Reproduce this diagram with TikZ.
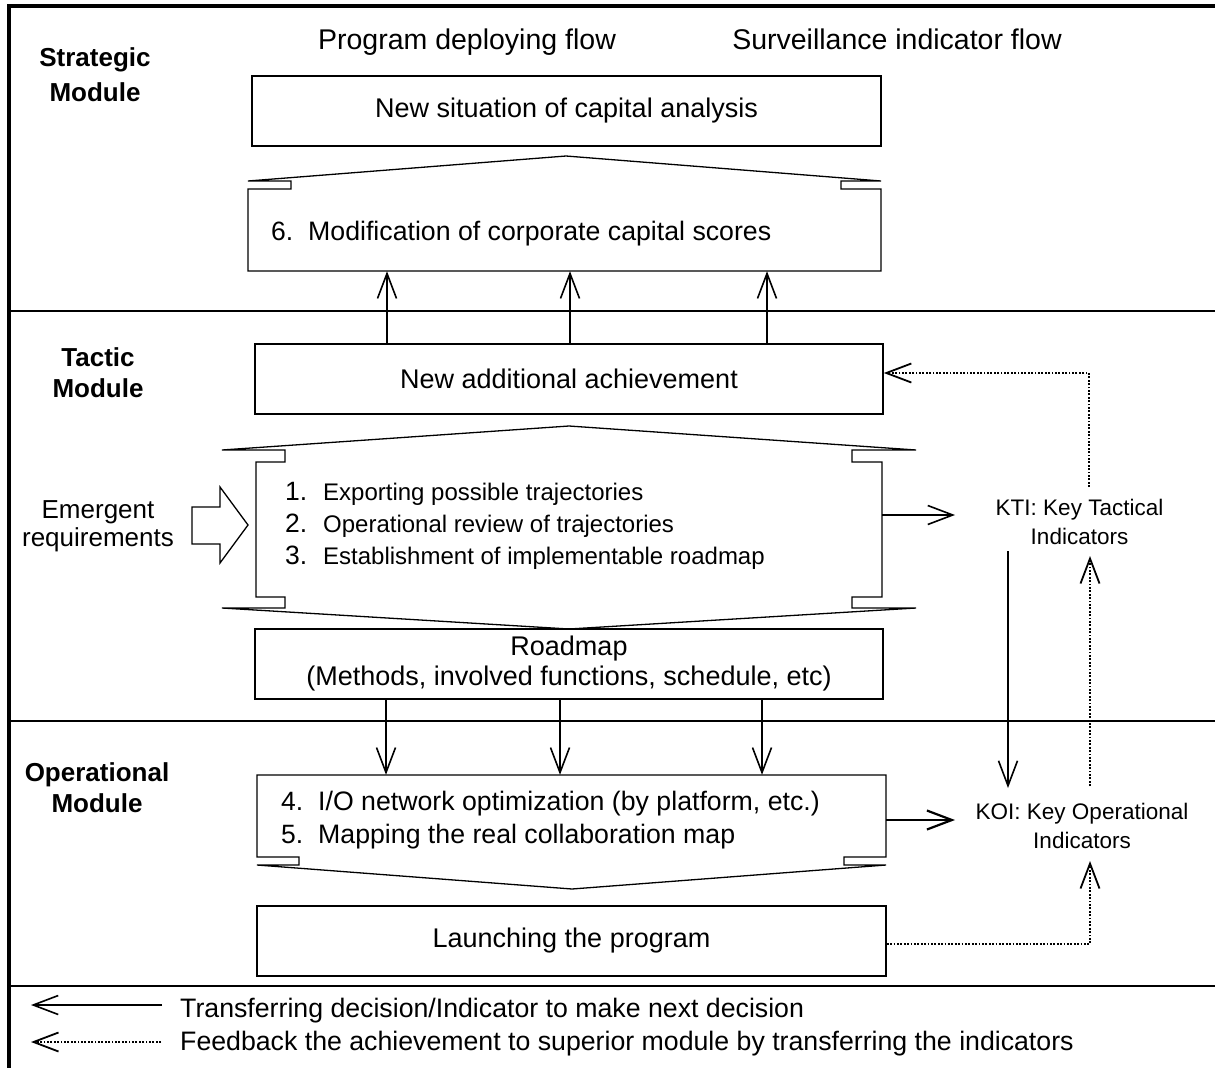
\documentclass[tikz,border=0pt]{standalone}
\usepackage{fontspec}
\setmainfont{Liberation Sans}
\usetikzlibrary{arrows.meta}
\begin{document}
\begin{tikzpicture}[x=1pt,y=-1pt,
  frame/.style={line width=3.5pt},
  sepline/.style={line width=1.8pt},
  box/.style={draw, line width=1.6pt, inner sep=0pt, minimum width=629pt, minimum height=70pt,
    font=\fontsize{27}{30}\selectfont, align=center},
  shp/.style={line width=1.3pt, line join=miter},
  ghost/.style={inner sep=0pt},
  hdr/.style={font=\fontsize{28.5}{32}\selectfont, inner sep=0pt},
  lbl/.style={font=\bfseries\fontsize{26}{31}\selectfont, align=center, inner sep=0pt},
  emg/.style={font=\fontsize{26}{28}\selectfont, align=center, inner sep=0pt},
  num/.style={font=\fontsize{26.5}{30}\selectfont, inner sep=0pt, anchor=base west},
  itm/.style={font=\fontsize{24}{28}\selectfont, inner sep=0pt, anchor=base west},
  itmb/.style={font=\fontsize{26.7}{30}\selectfont, inner sep=0pt, anchor=base west},
  ind/.style={font=\fontsize{22.5}{29}\selectfont, align=center, inner sep=0pt},
  leg/.style={font=\fontsize{26.7}{30}\selectfont, inner sep=0pt, anchor=base west},
  arr/.style={line width=1.6pt, -{Straight Barb[length=25pt,width=19pt]}},
  darr/.style={line width=1.8pt, dash pattern=on 1.8pt off 1.6pt, -{Straight Barb[length=25pt,width=19pt]}},
]
\useasboundingbox (0,0) rectangle (1215,1068);

% frame and section lines
\draw[frame] (1215,6) -- (9,6) -- (9,1068);
\draw[sepline] (9,311) -- (1215,311);
\draw[sepline] (9,721) -- (1215,721);
\draw[line width=2.2pt] (9,986) -- (1215,986);

% headers
\node[hdr, anchor=base] (hp) at (467,49) {Program deploying flow};
\node[hdr, anchor=base] (hs) at (897,49) {Surveillance indicator flow};

% module labels
\node[lbl, font=\bfseries\fontsize{26}{35}\selectfont] (ms) at (95,75) {Strategic\\Module};
\node[lbl] (mt) at (98,373) {Tactic\\Module};
\node[lbl] (mo) at (97,788) {Operational\\Module};
\node[emg] (em) at (98,526) {Emergent\\requirements};

% boxes
\node[box] (nsc) at (566.5,111) {New situation of capital analysis};
\node[box, minimum width=628pt] (ach) at (569,379) {New additional achievement};
\node[box, minimum width=628pt] (rmp) at (569,664) {Roadmap\\(Methods, involved functions, schedule, etc)};
\node[box] (lau) at (571.5,941) {Launching the program};

% strategic shape
\draw[shp] (248,181) -- (566,156) -- (881,181) -- (841,181) -- (841,189) -- (881,189)
  -- (881,271) -- (248,271) -- (248,189) -- (291,189) -- (291,181) -- cycle;
\node[ghost, minimum width=633pt, minimum height=82pt] (s6) at (564.5,230) {};
\node[num] (s6n) at (271,240) {6.};
\node[itmb] (s6t) at (308,240) {Modification of corporate capital scores};

% tactic shape
\draw[shp] (222,450) -- (569,426) -- (916,450) -- (852,450) -- (852,462) -- (882,462)
  -- (882,597) -- (852,597) -- (852,608) -- (916,608) -- (569,629) -- (222,608)
  -- (285,608) -- (285,597) -- (256,597) -- (256,462) -- (285,462) -- (285,450) -- cycle;
\node[ghost, minimum width=626pt, minimum height=135pt] (tac) at (569,529.5) {};
\node[num] (t1n) at (285,500) {1.};
\node[itm] (t1t) at (323,500) {Exporting possible trajectories};
\node[num] (t2n) at (285,532) {2.};
\node[itm] (t2t) at (323,532) {Operational review of trajectories};
\node[num] (t3n) at (285,564) {3.};
\node[itm] (t3t) at (323,564) {Establishment of implementable roadmap};

% operational shape
\draw[shp] (257,775) -- (886,775) -- (886,857) -- (844,857) -- (844,865) -- (886,865)
  -- (572,889) -- (257,865) -- (299,865) -- (299,857) -- (257,857) -- cycle;
\node[ghost, minimum width=629pt, minimum height=82pt] (ops) at (571.5,816) {};
\node[num] (o4n) at (281,810) {4.};
\node[itmb] (o4t) at (318,810) {I/O network optimization (by platform, etc.)};
\node[num] (o5n) at (281,843) {5.};
\node[itmb] (o5t) at (318,843) {Mapping the real collaboration map};

% emergent block arrow
\draw[shp] (192,507) -- (220,507) -- (220,487) -- (248,525) -- (220,563) -- (220,544) -- (192,544) -- cycle;

% indicators
\node[ind] (kti) at (1079.5,522) {KTI: Key Tactical\\Indicators};
\node[ind] (koi) at (1082,826) {KOI: Key Operational\\Indicators};

% vertical arrows between modules
\foreach \x in {387,570,767} {
  \draw[arr] (\x,0 |- ach.north) -- (\x,0 |- s6.south);
}
\foreach \x in {386,560,762} {
  \draw[arr] (\x,0 |- rmp.south) -- (\x,0 |- ops.north);
}

% indicator connectors
\coordinate (ktiin) at (955,515);
\draw[arr] (tac.east |- ktiin) -- (ktiin);
\coordinate (ktiup) at (1089,487);
\draw[darr] (ktiup) |- (ach.east |- 0,373);
\coordinate (ktidn) at (1008,551);
\coordinate (koiup) at (1008,788);
\draw[arr] (ktidn) -- (koiup);
\coordinate (koitop) at (1090,786);
\coordinate (ktibot) at (1090,556);
\draw[darr] (koitop) -- (ktibot);
\coordinate (koiin) at (955,820);
\draw[arr, line width=2.2pt] (ops.east |- koiin) -- (koiin);
\coordinate (koibot) at (1090,861);
\draw[darr] (lau.east |- 0,944) -| (koibot);

% legend
\coordinate (lg1a) at (162,1005);
\coordinate (lg1b) at (31,1005);
\draw[arr] (lg1a) -- (lg1b);
\coordinate (lg2a) at (161,1042);
\coordinate (lg2b) at (31,1042);
\draw[darr] (lg2a) -- (lg2b);
\node[leg] (lgt1) at (180,1017) {Transferring decision/Indicator to make next decision};
\node[leg] (lgt2) at (180,1050) {Feedback the achievement to superior module by transferring the indicators};
\end{tikzpicture}
\end{document}
